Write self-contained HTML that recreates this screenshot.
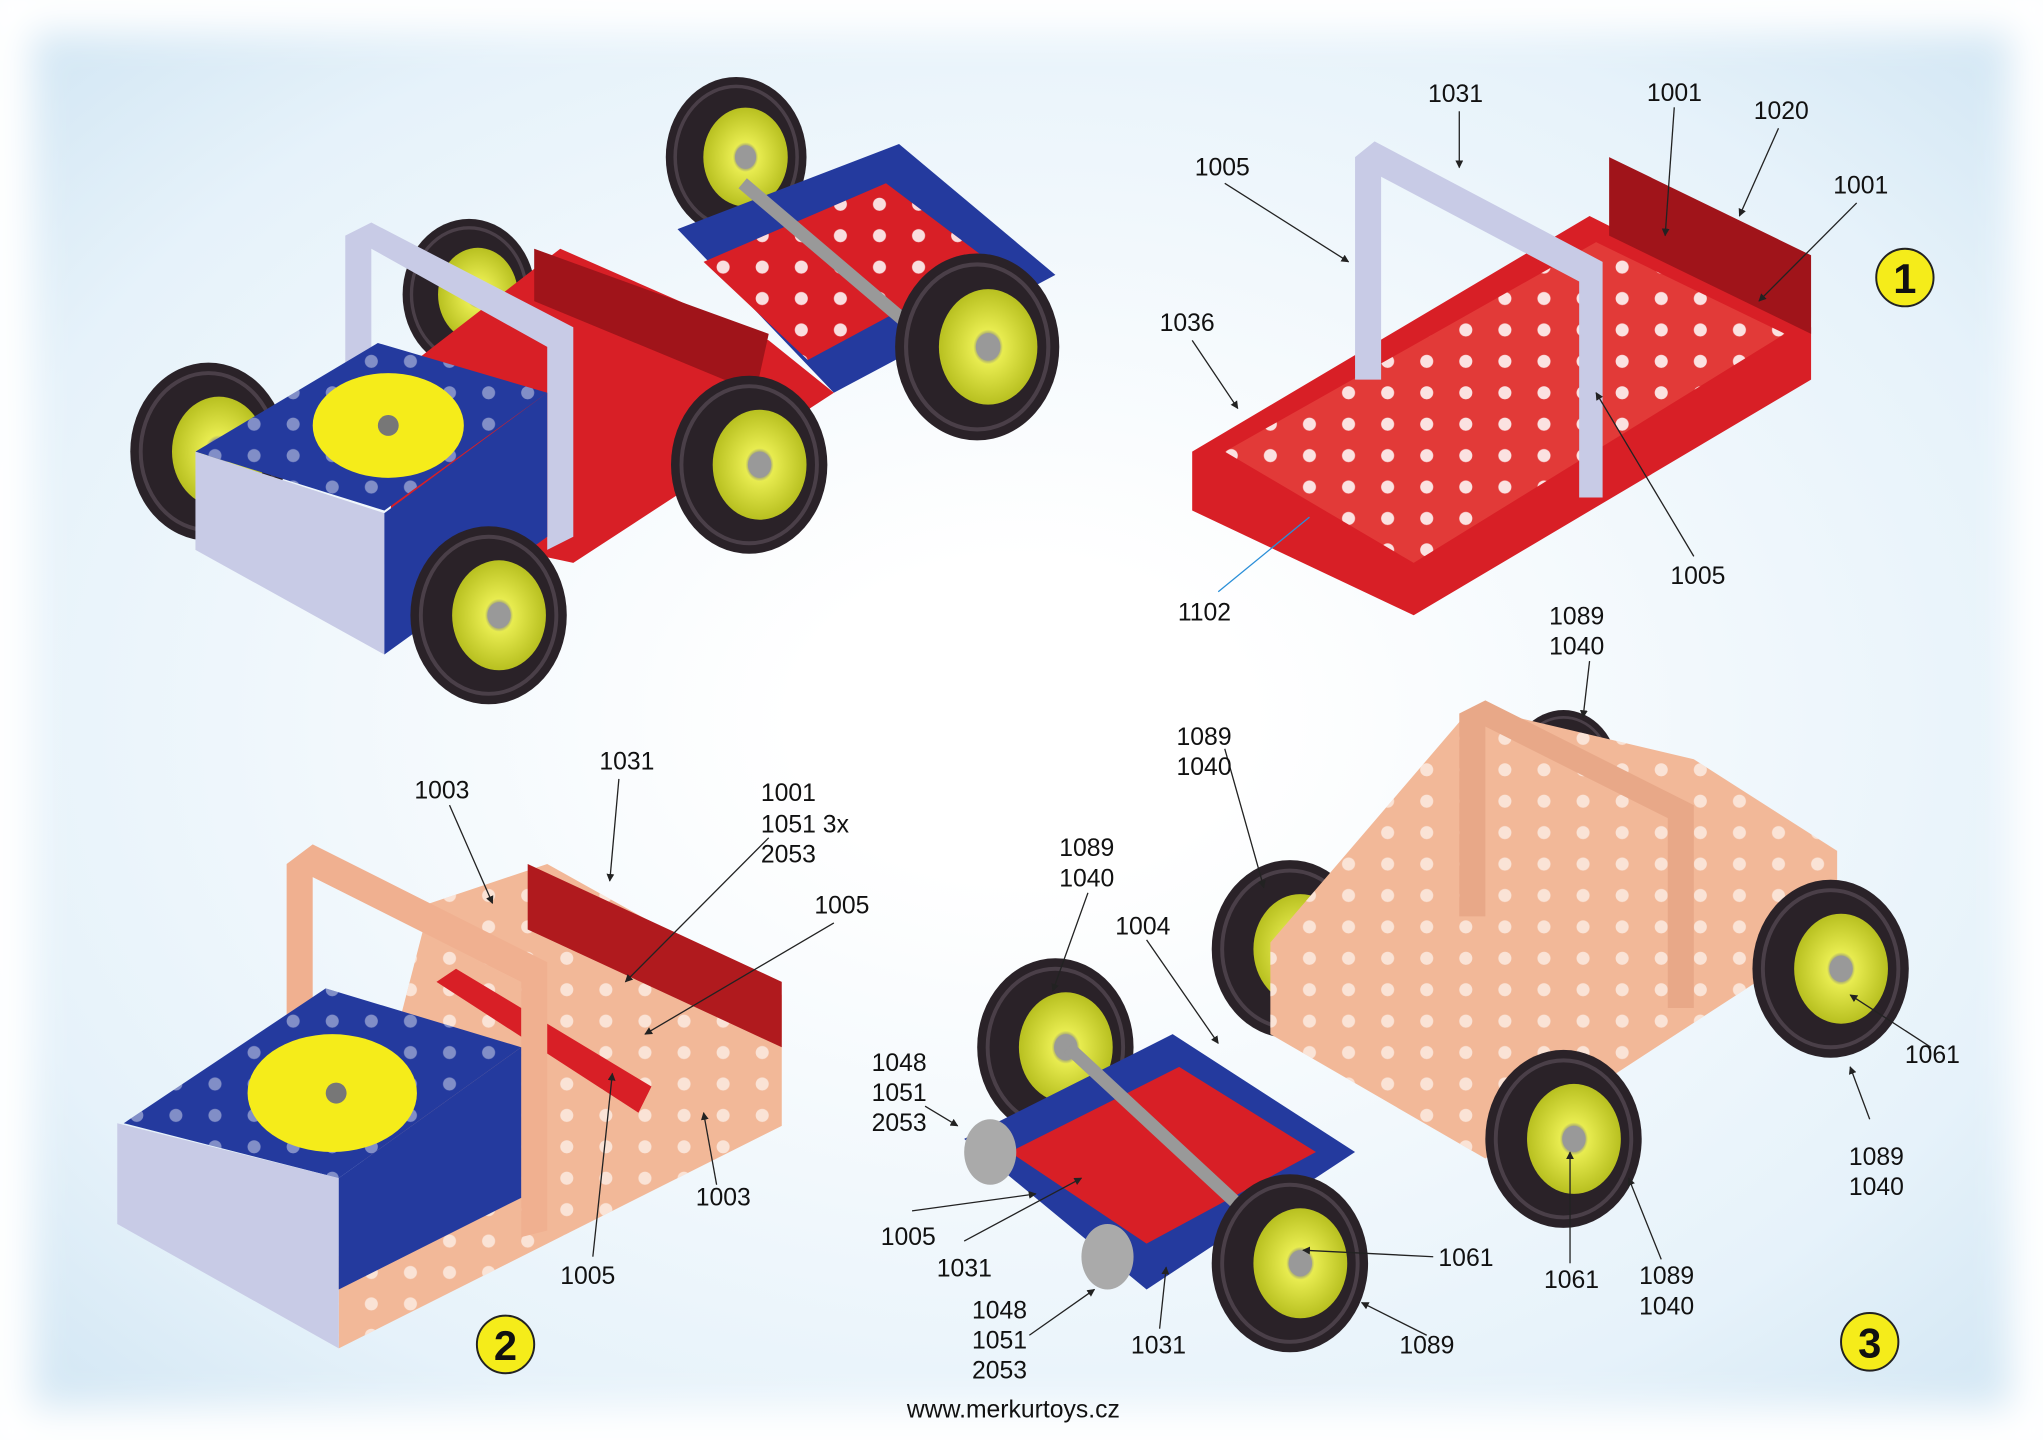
<!DOCTYPE html><html><head><style>html,body{margin:0;padding:0;background:#fff}svg{display:block}text{font-family:"Liberation Sans",sans-serif;font-size:19px;fill:#111}</style></head><body>
<svg width="2043" height="1440" viewBox="0 0 1568 1100" preserveAspectRatio="none">
<defs>
<radialGradient id="bg" cx="0.5" cy="0.5" r="0.75"><stop offset="0.15" stop-color="#ffffff"/><stop offset="0.7" stop-color="#e6f2fa"/><stop offset="1" stop-color="#c9e1f1"/></radialGradient>
<radialGradient id="hub" cx="0.5" cy="0.5" r="0.5"><stop offset="0.2" stop-color="#888"/><stop offset="0.3" stop-color="#e8ec50"/><stop offset="1" stop-color="#b8c020"/></radialGradient>
<pattern id="holes" width="30" height="24" patternUnits="userSpaceOnUse"><circle cx="15" cy="12" r="5" fill="#fff" opacity="0.85"/></pattern>
<pattern id="holesP" width="30" height="24" patternUnits="userSpaceOnUse"><circle cx="15" cy="12" r="5" fill="#fff" opacity="0.6"/></pattern>
<marker id="ar" viewBox="0 0 10 10" refX="9" refY="5" markerWidth="6" markerHeight="6" orient="auto"><path d="M0 0 L10 5 L0 10 z" fill="#222"/></marker>
<filter id="blur"><feGaussianBlur stdDeviation="14"/></filter>
<g id="wh"><ellipse rx="60" ry="68" fill="#2a2228"/><ellipse rx="52" ry="60" fill="none" stroke="#4a3f48" stroke-width="3"/><ellipse cx="8" rx="36" ry="42" fill="url(#hub)"/><ellipse cx="8" rx="9" ry="10" fill="#999"/></g>
</defs>
<rect width="1568" height="1100" fill="url(#bg)"/>
<rect x="0" y="0" width="1568" height="1100" fill="none" stroke="#fff" stroke-width="50" filter="url(#blur)"/>
<!-- car top-left -->
<use href="#wh" transform="translate(565,120) scale(0.9)"/>
<use href="#wh" transform="translate(360,225) scale(0.85)"/>
<polygon points="520,175 690,110 810,210 640,300" fill="#243a9e"/>
<polygon points="540,200 680,140 760,200 620,275" fill="#d81f26"/>
<polygon points="540,200 680,140 760,200 620,275" fill="url(#holes)"/>
<line x1="570" y1="140" x2="700" y2="250" stroke="#999" stroke-width="10"/>
<polygon points="300,290 430,190 590,260 640,300 440,430 300,400" fill="#d81f26"/>
<polygon points="410,190 590,255 580,300 410,230" fill="#a0141a"/>
<polygon points="265,180 285,170 440,250 440,410 420,420 420,265 285,190 285,280 265,285" fill="#c8cbe6"/>
<use href="#wh" transform="translate(160,345)"/>
<polygon points="150,345 290,262 420,300 295,390" fill="#243a9e"/>
<polygon points="150,345 290,262 420,300 295,390" fill="url(#holes)" opacity="0.5"/>
<polygon points="150,345 295,392 295,500 150,420" fill="#c8cbe6"/>
<polygon points="295,392 420,300 420,410 295,500" fill="#243a9e"/>
<ellipse cx="298" cy="325" rx="58" ry="40" fill="#f5ec1a"/>
<circle cx="298" cy="325" r="8" fill="#777"/>
<use href="#wh" transform="translate(575,355)"/>
<use href="#wh" transform="translate(375,470)"/>
<use href="#wh" transform="translate(750,265) scale(1.05)"/>
<!-- car 1 -->
<polygon points="915,345 1220,165 1390,250 1390,290 1085,470 915,390" fill="#d81f26"/>
<polygon points="940,345 1225,185 1370,255 1085,430" fill="#e23a38"/>
<polygon points="940,345 1225,185 1370,255 1085,430" fill="url(#holes)"/>
<polygon points="1235,120 1390,195 1390,255 1235,180" fill="#a0141a"/>
<polygon points="1040,120 1055,108 1230,200 1230,380 1212,380 1212,215 1060,135 1060,290 1040,290" fill="#c8cbe6"/>
<circle cx="1462" cy="212" r="22" fill="#f5ec1a" stroke="#222" stroke-width="1.5"/><text x="1462" y="224" text-anchor="middle" style="font-size:32px;font-weight:bold">1</text>
<!-- car 2 -->
<polygon points="330,690 420,660 600,760 600,860 260,1030 260,960" fill="#f2b898"/>
<polygon points="330,690 420,660 600,760 600,860 260,1030 260,960" fill="url(#holesP)"/>
<polygon points="405,660 600,750 600,800 405,710" fill="#b01a1e"/>
<polygon points="335,750 350,740 500,830 490,850" fill="#d81f26"/>
<polygon points="220,660 240,645 420,735 420,940 400,945 400,750 240,670 240,880 220,880" fill="#f0b090"/>
<polygon points="95,858 250,755 400,800 260,900" fill="#243a9e"/>
<polygon points="95,858 250,755 400,800 260,900" fill="url(#holes)" opacity="0.5"/>
<polygon points="90,858 260,900 260,1030 90,935" fill="#c8cbe6"/>
<polygon points="260,900 400,800 400,915 260,985" fill="#243a9e"/>
<ellipse cx="255" cy="835" rx="65" ry="45" fill="#f5ec1a"/><circle cx="258" cy="835" r="8" fill="#777"/>
<circle cx="388" cy="1027" r="22" fill="#f5ec1a" stroke="#222" stroke-width="1.5"/><text x="388" y="1039" text-anchor="middle" style="font-size:32px;font-weight:bold">2</text>
<!-- car 3 -->
<use href="#wh" transform="translate(1200,590) scale(0.7)"/>
<use href="#wh" transform="translate(990,725)"/>
<polygon points="975,720 1130,540 1300,580 1410,650 1410,710 1140,885 975,790" fill="#f2b898"/>
<polygon points="975,720 1130,540 1300,580 1410,650 1410,710 1140,885 975,790" fill="url(#holesP)"/>
<polygon points="1120,545 1140,535 1300,615 1300,770 1280,770 1280,625 1140,555 1140,700 1120,700" fill="#e8a888"/>
<use href="#wh" transform="translate(810,800)"/>
<polygon points="740,870 900,790 1040,880 880,985" fill="#243a9e"/>
<polygon points="775,880 905,815 1010,880 880,950" fill="#d81f26"/>
<line x1="820" y1="800" x2="950" y2="920" stroke="#999" stroke-width="10"/>
<ellipse cx="760" cy="880" rx="20" ry="25" fill="#aaa"/><ellipse cx="850" cy="960" rx="20" ry="25" fill="#aaa"/>
<use href="#wh" transform="translate(1405,740)"/>
<use href="#wh" transform="translate(1200,870)"/>
<use href="#wh" transform="translate(990,965)"/>
<circle cx="1435" cy="1025" r="22" fill="#f5ec1a" stroke="#222" stroke-width="1.5"/><text x="1435" y="1037" text-anchor="middle" style="font-size:32px;font-weight:bold">3</text>
<!-- leaders -->
<g stroke="#222" stroke-width="1" fill="none" marker-end="url(#ar)">
<path d="M1120 85 L1120 128"/><path d="M940 140 L1035 200"/><path d="M1285 82 L1278 180"/><path d="M1365 98 L1335 165"/><path d="M1425 155 L1350 230"/><path d="M915 260 L950 312"/><path d="M1300 425 L1225 300"/><path d="M1220 505 L1215 548"/><path d="M940 572 L970 678"/><path d="M835 682 L808 757"/><path d="M880 718 L935 797"/><path d="M1435 855 L1420 815"/><path d="M1482 800 L1420 760"/><path d="M1205 965 L1205 880"/><path d="M1275 962 L1250 900"/><path d="M1100 960 L1000 955"/><path d="M1095 1020 L1045 995"/><path d="M890 1015 L895 968"/><path d="M740 948 L830 900"/><path d="M700 925 L795 912"/><path d="M790 1020 L840 985"/><path d="M710 845 L735 860"/><path d="M475 595 L468 673"/><path d="M345 615 L378 690"/><path d="M590 640 L480 750"/><path d="M640 705 L495 790"/><path d="M550 905 L540 850"/><path d="M455 960 L470 820"/>
</g>
<path d="M935 452 L1005 395" stroke="#2a8fd8" fill="none"/>
<!-- labels -->
<text x="1096" y="78">1031</text><text x="917" y="134">1005</text><text x="1264" y="77">1001</text><text x="1346" y="91">1020</text><text x="1407" y="148">1001</text>
<text x="890" y="253">1036</text><text x="1282" y="446">1005</text><text x="904" y="474">1102</text>
<text x="1189" y="477">1089</text><text x="1189" y="500">1040</text>
<text x="903" y="569">1089</text><text x="903" y="592">1040</text>
<text x="813" y="654">1089</text><text x="813" y="677">1040</text>
<text x="856" y="714">1004</text>
<text x="1462" y="812">1061</text><text x="1419" y="890">1089</text><text x="1419" y="913">1040</text>
<text x="669" y="818">1048</text><text x="669" y="841">1051</text><text x="669" y="864">2053</text>
<text x="676" y="951">1005</text><text x="719" y="975">1031</text>
<text x="746" y="1007">1048</text><text x="746" y="1030">1051</text><text x="746" y="1053">2053</text>
<text x="868" y="1034">1031</text><text x="1074" y="1034">1089</text><text x="1104" y="967">1061</text>
<text x="1185" y="984">1061</text><text x="1258" y="981">1089</text><text x="1258" y="1004">1040</text>
<text x="318" y="610">1003</text><text x="460" y="588">1031</text>
<text x="584" y="612">1001</text><text x="584" y="636">1051 3x</text><text x="584" y="659">2053</text>
<text x="625" y="698">1005</text><text x="534" y="921">1003</text><text x="430" y="981">1005</text>
<text x="696" y="1083">www.merkurtoys.cz</text>
</svg>
</body></html>
